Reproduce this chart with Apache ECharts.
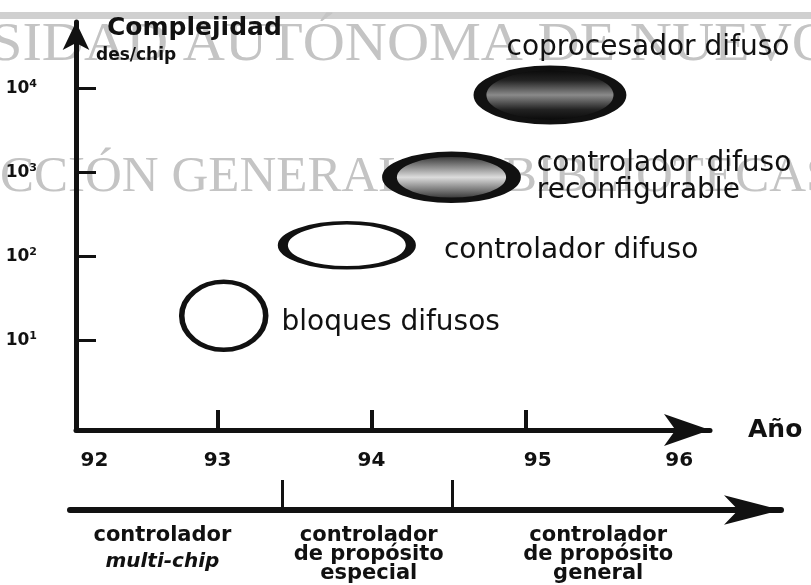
<!DOCTYPE html>
<html>
<head>
<meta charset="utf-8">
<script src="https://cdn.jsdelivr.net/npm/echarts@6/dist/echarts.min.js"></script>
<style>
  html, body { margin: 0; padding: 0; background: #fff; }
  #chart { width: 811px; height: 585px; }
</style>
</head>
<body>
<div id="chart"></div>
<script>
// ejes
const yearLabels = ['92', '93', '94', '95', '96'];
const yearLabelAt = [92.2, 93, 94, 95.08, 96];
const yearTicks = [93, 94, 95];
const complexityExp = [1, 2, 3, 4];
const complexityBase = '10';
const complexitySup = ['1', '2', '3', '4'];

// productos: año y exponente de complejidad (des/chip)
const productNames = ['bloques difusos', 'controlador difuso', 'controlador difuso\nreconfigurable', 'coprocesador difuso'];
const productYear = [93.04, 93.84, 94.52, 95.16];
const productExp = [1.29, 2.13, 2.94, 3.92];

// etapas de la linea de tiempo inferior
const eraBounds = [93.42, 94.52];
const eraCenter = [92.64, 93.98, 95.47];
const eraLines = [
  ['controlador', 'multi-chip'],
  ['controlador', 'de propósito', 'especial'],
  ['controlador', 'de propósito', 'general']
];

const ink = '#111';
const sans = 'DejaVu Sans';

function band(stops) {
  return new echarts.graphic.LinearGradient(0, 0, 0, 1, stops.map((c, i) => ({ offset: i / (stops.length - 1), color: c })));
}

// estilo de cada elipse
const shapeStyle = [
  { size: [84, 68], fill: '#fff', border: 5, label: { position: 'right', distance: 13, offset: [0, 7] } },
  { size: [128, 45], fill: '#fff', border: 6, label: { position: 'right', distance: 28, offset: [0, 5] } },
  { size: [124, 46], fill: band(['#111', '#777', '#dcdcdc', '#777', '#111']), border: 9, label: { position: 'right', distance: 16, offset: [0, 0] } },
  { size: [140, 54], fill: band(['#000', '#222', '#8a8a8a', '#222', '#000']), border: 8, label: { position: [33, -18], align: 'left', verticalAlign: 'middle' } }
];

const productData = productNames.map((name, i) => ({
  name: name,
  value: [productYear[i], productExp[i]],
  symbolSize: shapeStyle[i].size,
  itemStyle: { color: shapeStyle[i].fill, borderColor: ink, borderWidth: shapeStyle[i].border, opacity: 1 },
  label: Object.assign({ show: true, formatter: '{b}' }, shapeStyle[i].label)
}));

const eraData = eraCenter.map((x, i) => ({
  value: [x, 0],
  label: {
    formatter: eraLines[i].map((t, j) => (i === 0 && j === 1 ? '{i|' + t + '}' : '{b|' + t + '}')).join('\n')
  }
}));

function nearest(list, v) {
  let best = 0;
  list.forEach((x, i) => { if (Math.abs(x - v) < Math.abs(list[best] - v)) best = i; });
  return best;
}

const option = {
  animation: false,
  backgroundColor: '#fff',
  title: [
    { text: 'Complejidad', left: 107, top: 16, padding: 0,
      textStyle: { fontFamily: sans, fontWeight: 'bold', fontSize: 25, color: ink } },
    { text: 'des/chip', left: 96, top: 47, padding: 0,
      textStyle: { fontFamily: sans, fontWeight: 'bold', fontSize: 17, color: ink } }
  ],
  graphic: [
    { type: 'rect', z: 0, shape: { x: 0, y: 12, width: 811, height: 7 }, style: { fill: '#d0d0d0' } },
    { type: 'text', z: 0, x: -10, y: 46, scaleX: 1.08, style: { text: 'SIDAD AUTÓNOMA DE NUEVO', font: '54px "Liberation Serif"', fill: '#c4c4c4', textVerticalAlign: 'middle' } },
    { type: 'text', z: 0, x: 0, y: 178, style: { text: 'CCIÓN GENERAL DE BIBLIOTECAS', font: '51px "Liberation Serif"', fill: '#c4c4c4', textVerticalAlign: 'middle' } }
  ],
  grid: [
    { left: 76, right: 101, top: 22, bottom: 155, outerBoundsMode: 'none' },
    { left: 70, right: 30, top: 480, height: 30, outerBoundsMode: 'none' }
  ],
  xAxis: [
    {
      type: 'value', gridIndex: 0, min: 92.08, max: 96.2,
      name: 'Año', nameLocation: 'end', nameGap: 38,
      nameTextStyle: { fontFamily: sans, fontWeight: 'bold', fontSize: 25, color: ink, verticalAlign: 'middle' },
      axisLine: { show: true, onZero: false, symbol: ['none', 'arrow'], symbolSize: [24, 46], lineStyle: { color: ink, width: 5 } },
      axisTick: { show: true, inside: true, length: 20, customValues: yearTicks, lineStyle: { color: ink, width: 4 } },
      axisLabel: {
        customValues: yearLabelAt, margin: 21,
        formatter: v => yearLabels[nearest(yearLabelAt, v)],
        fontFamily: sans, fontWeight: 'bold', fontSize: 20, color: ink
      },
      splitLine: { show: false }
    },
    {
      type: 'value', gridIndex: 1, min: 92.04, max: 96.657,
      axisLine: { show: true, onZero: false, symbol: ['none', 'arrow'], symbolSize: [22, 57], lineStyle: { color: ink, width: 6 } },
      axisTick: { show: true, inside: true, length: 30, customValues: eraBounds, lineStyle: { color: ink, width: 3 } },
      axisLabel: { show: false },
      splitLine: { show: false }
    }
  ],
  yAxis: [
    {
      type: 'value', gridIndex: 0, min: -0.07, max: 4.79,
      axisLine: { show: true, onZero: false, symbol: ['none', 'arrow'], symbolSize: [20, 28], lineStyle: { color: ink, width: 5 } },
      axisTick: { show: true, inside: true, length: 20, customValues: complexityExp, lineStyle: { color: ink, width: 3 } },
      axisLabel: {
        customValues: complexityExp, margin: 39,
        formatter: v => '{b|' + complexityBase + '}{s|' + complexitySup[nearest(complexityExp, v)] + '}',
        rich: {
          b: { fontFamily: sans, fontWeight: 'bold', fontSize: 17, lineHeight: 20, color: ink },
          s: { fontFamily: sans, fontWeight: 'bold', fontSize: 11, lineHeight: 12, color: ink, verticalAlign: 'top' }
        }
      },
      splitLine: { show: false }
    },
    { type: 'value', gridIndex: 1, min: 0, max: 1, show: false }
  ],
  series: [
    {
      type: 'scatter', xAxisIndex: 0, yAxisIndex: 0, z: 3, clip: false,
      symbol: 'circle',
      itemStyle: { opacity: 1 },
      label: { fontFamily: sans, fontSize: 28, color: ink, lineHeight: 27 },
      emphasis: { disabled: true },
      data: productData
    },
    {
      type: 'scatter', xAxisIndex: 1, yAxisIndex: 1, z: 3, clip: false,
      symbolSize: 1, itemStyle: { color: 'rgba(0,0,0,0)', opacity: 1 },
      label: {
        show: true, position: 'bottom', distance: 16, align: 'center',
        rich: {
          b: { fontFamily: sans, fontWeight: 'bold', fontSize: 21, lineHeight: 19, color: ink, align: 'center' },
          i: { fontFamily: sans, fontWeight: 'bold', fontStyle: 'italic', fontSize: 20, lineHeight: 32, color: ink, align: 'center' }
        }
      },
      emphasis: { disabled: true },
      data: eraData
    }
  ]
};

const chart = echarts.init(document.getElementById('chart'));
chart.setOption(option);
</script>
</body>
</html>
